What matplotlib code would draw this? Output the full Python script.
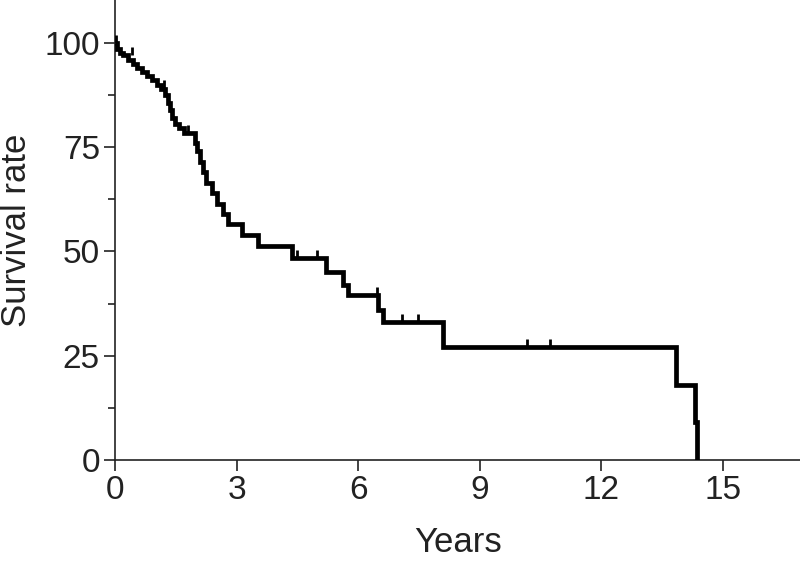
import numpy as np
import matplotlib
matplotlib.use("Agg")
import matplotlib.pyplot as plt

plt.rcParams['font.family'] = ['Liberation Sans', 'DejaVu Sans']

# Kaplan-Meier steps: time (years) where survival drops, and the survival after the drop
step_years = [0, 0.05, 0.12, 0.2, 0.32, 0.44, 0.54, 0.67, 0.79, 0.92, 1.03,
              1.14, 1.24, 1.3, 1.35, 1.4, 1.47, 1.57, 1.7, 1.98, 2.03, 2.1,
              2.17, 2.25, 2.4, 2.52, 2.65, 2.78, 3.14, 3.53, 4.37, 5.19, 5.63,
              5.75, 6.49, 6.62, 8.1, 13.83, 14.3, 14.37]
step_surv = [100, 98.5, 97.5, 97, 96, 95, 94, 93, 92, 91, 90,
             89, 87.5, 85.5, 84, 82, 80.5, 79.5, 78.4, 76, 74, 71.5,
             69, 66.5, 64, 61.5, 59, 56.5, 54, 51.3, 48.4, 45, 42,
             39.6, 36, 33, 27, 18, 9, 0]

# censored observations
cens_years = [0.02, 0.42, 1.2, 1.8, 4.49, 4.99, 6.47, 7.09, 7.48, 10.17, 10.72]
cens_surv = [100, 97, 89, 78.4, 48.4, 48.4, 39.6, 33, 33, 27, 27]

y_ticks = [0, 25, 50, 75, 100]
x_ticks = [0, 3, 6, 9, 12, 15]

fig = plt.figure(figsize=(8, 5.62), dpi=100)
ax = fig.add_axes([0.144, 0.1815, 0.856, 0.8185])

ax.step(step_years, step_surv, where='post', color='black', lw=3.4,
        solid_joinstyle='miter', solid_capstyle='butt', zorder=3)
ax.vlines(cens_years, np.array(cens_surv), np.array(cens_surv) + 2.0,
          color='black', lw=2.0, zorder=3)

ax.set_xlim(0, 16.9)
ax.set_ylim(0, 110.3)
ax.set_xticks(x_ticks)
ax.set_yticks(y_ticks)
ax.set_yticks([12.5, 37.5, 62.5, 87.5], minor=True)

for side in ['top', 'right']:
    ax.spines[side].set_visible(False)
for side in ['left', 'bottom']:
    ax.spines[side].set_linewidth(1.2)
    ax.spines[side].set_color('#222222')

ax.tick_params(axis='both', which='major', length=8, width=1.2,
               labelsize=24, colors='#222222', pad=3)
ax.tick_params(axis='y', which='minor', length=5, width=1.2, colors='#222222')
ax.tick_params(axis='x', which='minor', length=0)

ax.set_xlabel('Years', fontsize=25, color='#222222', labelpad=14)
ax.set_ylabel('Survival rate', fontsize=25, color='#222222', labelpad=8)

fig.savefig('out.png', dpi=100)
